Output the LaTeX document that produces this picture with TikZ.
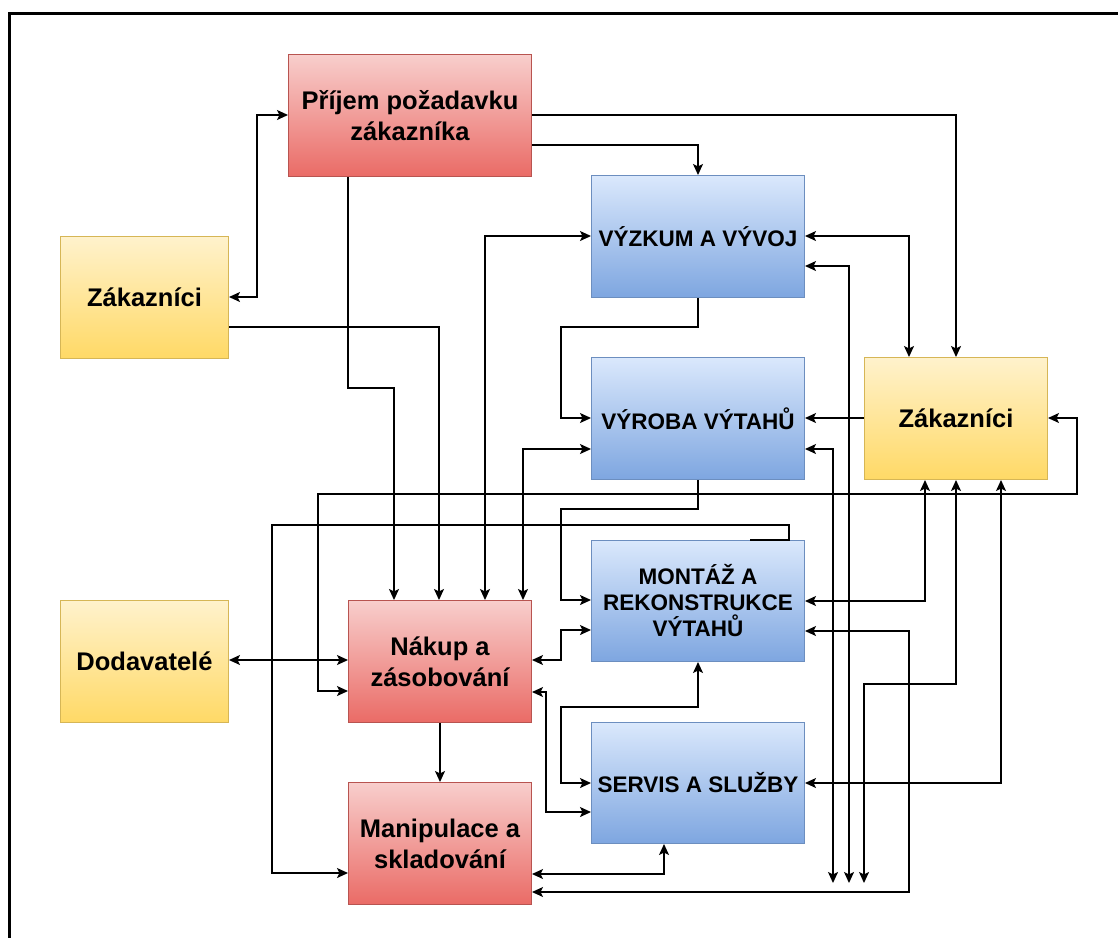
\documentclass[tikz,border=0pt]{standalone}
\usepackage{fontspec}
\setmainfont{Liberation Sans}
\usetikzlibrary{arrows.meta}
\definecolor{redtop}{HTML}{F8CECC}
\definecolor{redbot}{HTML}{EA6B66}
\definecolor{redline}{HTML}{B85450}
\definecolor{bluetop}{HTML}{DAE8FC}
\definecolor{bluebot}{HTML}{7EA6E0}
\definecolor{blueline}{HTML}{6C8EBF}
\definecolor{yeltop}{HTML}{FFF2CC}
\definecolor{yelbot}{HTML}{FFD966}
\definecolor{yelline}{HTML}{D6B656}
\tikzset{
  box/.style={anchor=north west, inner sep=0pt, align=center, line width=1pt,
    font=\bfseries\fontsize{25.5}{31}\selectfont},
  redbox/.style={box, draw=redline, top color=redtop, bottom color=redbot},
  yelbox/.style={box, draw=yelline, top color=yeltop, bottom color=yelbot},
  bluebox/.style={box, draw=blueline, top color=bluetop, bottom color=bluebot,
    font=\bfseries\fontsize{22.5}{26}\selectfont},
  conn/.style={line width=1.5pt, black},
  one/.style={conn, -{Stealth[length=11pt,width=10pt,inset=2.5pt]}},
  two/.style={conn, {Stealth[length=11pt,width=10pt,inset=2.5pt]}-{Stealth[length=11pt,width=10pt,inset=2.5pt]}},
  frameline/.style={line width=2.6pt, black}
}
\begin{document}
\begin{tikzpicture}[x=1pt,y=-1pt]
\useasboundingbox (0,0) rectangle (1118,938);
\draw[frameline] (1118,13.5) -- (9.5,13.5) -- (9.5,938);

\node[redbox, minimum width=243pt, minimum height=122pt] (prijem) at (288,54) {Příjem požadavku\\zákazníka};
\node[yelbox, minimum width=168pt, minimum height=122pt] (zakL) at (60,236) {Zákazníci};
\node[bluebox, minimum width=213pt, minimum height=122pt] (vyzkum) at (591,175) {VÝZKUM A VÝVOJ};
\node[bluebox, minimum width=213pt, minimum height=122pt] (vyroba) at (591,357) {VÝROBA VÝTAHŮ};
\node[yelbox, minimum width=183pt, minimum height=122pt] (zakR) at (864,357) {Zákazníci};
\node[bluebox, minimum width=213pt, minimum height=121pt] (montaz) at (591,540) {MONTÁŽ A\\REKONSTRUKCE\\VÝTAHŮ};
\node[bluebox, minimum width=213pt, minimum height=121pt] (servis) at (591,722) {SERVIS A SLUŽBY};
\node[yelbox, minimum width=168pt, minimum height=122pt] (dodav) at (60,600) {Dodavatelé};
\node[redbox, minimum width=183pt, minimum height=122pt] (nakup) at (348,600) {Nákup a\\zásobování};
\node[redbox, minimum width=183pt, minimum height=122pt] (manip) at (348,782) {Manipulace a\\skladování};

\coordinate (e1) at (833,883);
\coordinate (e2) at (849,883);
\coordinate (e3) at (864,883);

% connectors
\draw[two] (zakL.east |- 0,297) -- (257,297) -- (257,115) -- (prijem.west |- 0,115);
\draw[one] (prijem.east |- 0,115) -- (956,115) -- (956,0 |- zakR.north);
\draw[one] (prijem.east |- 0,145) -- (698,145) -- (698,0 |- vyzkum.north);
\draw[one] (348,0 |- prijem.south) -- (348,388) -- (394,388) -- (394,0 |- nakup.north);
\draw[one] (zakL.east |- 0,327) -- (439,327) -- (439,0 |- nakup.north);
\draw[two] (vyzkum.west |- 0,236) -- (485,236) -- (485,0 |- nakup.north);
\draw[two] (vyroba.west |- 0,449) -- (523,449) -- (523,0 |- nakup.north);
\draw[one] (698,0 |- vyzkum.south) -- (698,327) -- (561,327) -- (561,418) -- (vyroba.west |- 0,418);
\draw[two] (vyzkum.east |- 0,236) -- (909,236) -- (909,0 |- zakR.north);
\draw[two] (vyzkum.east |- 0,266) -- (849,266) -- (e2);
\draw[one] (zakR.west |- 0,418) -- (vyroba.east |- 0,418);
\draw[two] (vyroba.east |- 0,449) -- (833,449) -- (e1);
\draw[one] (698,0 |- vyroba.south) -- (698,509) -- (561,509) -- (561,600) -- (montaz.west |- 0,600);
\draw[two] (nakup.west |- 0,691) -- (318,691) -- (318,494) -- (1077,494) -- (1077,418) -- (zakR.east |- 0,418);
\draw[one] (750,0 |- montaz.north) -- (789,0 |- montaz.north) -- (789,525) -- (272,525) -- (272,873) -- (manip.west |- 0,873);
\draw[two] (dodav.east |- 0,660) -- (nakup.west |- 0,660);
\draw[one] (nakup.south) -- (manip.north);
\draw[two] (nakup.east |- 0,660) -- (561,660) -- (561,630) -- (montaz.west |- 0,630);
\draw[two] (nakup.east |- 0,692) -- (546,692) -- (546,812) -- (servis.west |- 0,812);
\draw[two] (698,0 |- montaz.south) -- (698,707) -- (561,707) -- (561,783) -- (servis.west |- 0,783);
\draw[two] (664,0 |- servis.south) -- (664,874) -- (manip.east |- 0,874);
\draw[two] (montaz.east |- 0,631) -- (909,631) -- (909,892) -- (manip.east |- 0,892);
\draw[two] (montaz.east |- 0,601) -- (925,601) -- (925,0 |- zakR.south);
\draw[two] (956,0 |- zakR.south) -- (956,684) -- (864,684) -- (e3);
\draw[two] (1001,0 |- zakR.south) -- (1001,783) -- (servis.east |- 0,783);
\end{tikzpicture}
\end{document}
